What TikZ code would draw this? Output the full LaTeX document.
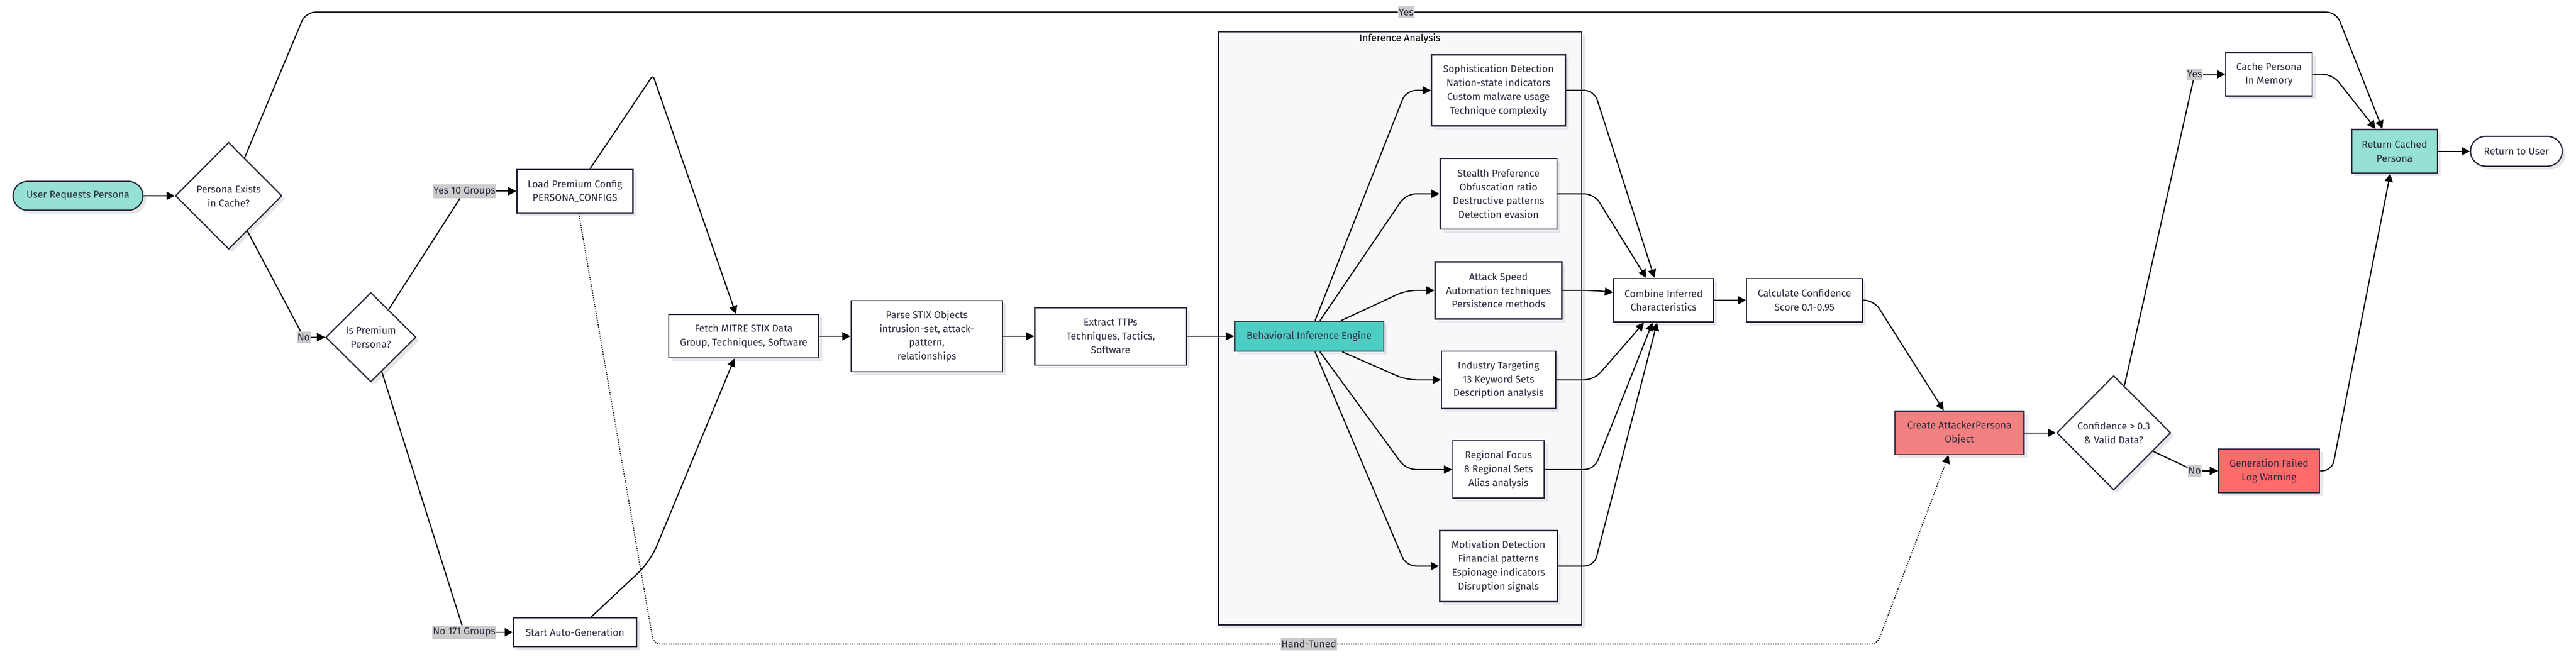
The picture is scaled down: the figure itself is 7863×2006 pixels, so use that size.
\documentclass[tikz,border=0pt]{standalone}
\usepackage{fontspec}
\setmainfont{Fira Sans}
\usetikzlibrary{arrows.meta,shapes.geometric,shapes.misc,shadows,calc}
\definecolor{ink}{HTML}{2A2A3E}
\definecolor{mint}{HTML}{95E1D3}
\definecolor{engcol}{HTML}{4ECDC4}
\definecolor{salmon}{HTML}{F38181}
\definecolor{failcol}{HTML}{FF6B6B}
\definecolor{panel}{HTML}{F8F8FA}
\definecolor{shade}{HTML}{E6E6EA}

\tikzset{
  box/.style={draw=ink,line width=1.1pt,fill=white,align=center,inner sep=0pt,
    drop shadow={shadow xshift=0.1cm,shadow yshift=-0.1cm,fill=shade,opacity=1}},
  dia/.style={box,diamond,aspect=1},
  pill/.style={box,rounded rectangle},
  lbl/.style={fill=black!20,inner xsep=0.5pt,inner ysep=0.07cm},
  arr/.style={line width=1pt,-{Triangle[length=0.25cm,width=0.25cm]}},
  link/.style={line width=1pt},
  dotline/.style={line width=0.9pt,dash pattern=on 0.03cm off 0.04cm}
}

\begin{document}
\begin{tikzpicture}[x=0.01cm,y=-0.01cm,font=\fontsize{8.6}{12}\selectfont,every node/.append style={text=ink}]
  \useasboundingbox (0,0) rectangle (7863,2006);

  % inference cluster
  \draw[draw=ink,line width=1.1pt,fill=panel,drop shadow={shadow xshift=0.1cm,shadow yshift=-0.1cm,fill=shade,opacity=1}]
    (3719,97) rectangle (4828,1908);
  \node[text=black] (ctitle) at (4273,118) {Inference Analysis};

  % nodes
  \node[pill,fill=mint,minimum width=3.96cm,minimum height=0.88cm] (start) at (238,598) {User Requests Persona};
  \node[dia,minimum width=3.25cm,minimum height=3.26cm] (cache) at (698,598) {Persona Exists\\in Cache?};
  \node[dia,minimum width=2.75cm,minimum height=2.73cm] (premium) at (1132,1030) {Is Premium\\Persona?};
  \node[box,minimum width=3.54cm,minimum height=1.33cm] (loadcfg) at (1755,584) {Load Premium Config\\PERSONA\_CONFIGS};
  \node[box,minimum width=3.75cm,minimum height=0.89cm] (autogen) at (1755,1931) {Start Auto-Generation};
  \node[box,minimum width=4.58cm,minimum height=1.32cm] (fetch) at (2270,1027) {Fetch MITRE STIX Data\\Group, Techniques, Software};
  \node[box,minimum width=4.62cm,minimum height=2.17cm] (parse) at (2829,1027) {Parse STIX Objects\\intrusion-set, attack-\\pattern,\\relationships};
  \node[box,minimum width=4.63cm,minimum height=1.75cm] (ttps) at (3390,1027) {Extract TTPs\\Techniques, Tactics,\\Software};
  \node[box,fill=engcol,minimum width=4.55cm,minimum height=0.91cm] (engine) at (3996,1027) {Behavioral Inference Engine};

  \node[box,minimum width=4.09cm,minimum height=2.17cm] (soph) at (4574,276) {Sophistication Detection\\Nation-state indicators\\Custom malware usage\\Technique complexity};
  \node[box,minimum width=3.56cm,minimum height=2.16cm] (stealth) at (4574,592) {Stealth Preference\\Obfuscation ratio\\Destructive patterns\\Detection evasion};
  \node[box,minimum width=3.87cm,minimum height=1.74cm] (speed) at (4574,887) {Attack Speed\\Automation techniques\\Persistence methods};
  \node[box,minimum width=3.48cm,minimum height=1.75cm] (industry) at (4574,1160) {Industry Targeting\\13 Keyword Sets\\Description analysis};
  \node[box,minimum width=2.79cm,minimum height=1.75cm] (regional) at (4574,1434) {Regional Focus\\8 Regional Sets\\Alias analysis};
  \node[box,minimum width=3.59cm,minimum height=2.17cm] (motiv) at (4574,1729) {Motivation Detection\\Financial patterns\\Espionage indicators\\Disruption signals};

  \node[box,minimum width=3.05cm,minimum height=1.33cm] (combine) at (5078,917) {Combine Inferred\\Characteristics};
  \node[box,minimum width=3.53cm,minimum height=1.33cm] (calc) at (5508,917) {Calculate Confidence\\Score 0.1-0.95};
  \node[box,fill=salmon,minimum width=3.94cm,minimum height=1.33cm] (create) at (5981,1322) {Create AttackerPersona\\Object};
  \node[dia,minimum width=3.48cm,minimum height=3.49cm] (conf) at (6452,1322) {Confidence > 0.3\\\& Valid Data?};
  \node[box,minimum width=2.64cm,minimum height=1.32cm] (cachemem) at (6926,227) {Cache Persona\\In Memory};
  \node[box,fill=failcol,minimum width=3.08cm,minimum height=1.34cm] (failed) at (6926,1438) {Generation Failed\\Log Warning};
  \node[box,fill=mint,minimum width=2.62cm,minimum height=1.33cm] (retcached) at (7309,462) {Return Cached\\Persona};
  \node[pill,minimum width=2.80cm,minimum height=0.91cm] (retuser) at (7681,462) {Return to User};

  % edge labels
  \node[lbl] (yescache) at (4292,37) {Yes};
  \node[lbl] (nocache) at (927,1030) {No};
  \node[lbl] (yesprem) at (1418,584) {Yes 10 Groups};
  \node[lbl] (noprem) at (1417,1931) {No 171 Groups};
  \node[lbl] (handtuned) at (3995,1967) {Hand-Tuned};
  \node[lbl] (yesconf) at (6699,227) {Yes};
  \node[lbl] (noconf) at (6699,1438) {No};

  \coordinate (ytl) at (933,37);
  \coordinate (ytr) at (7131,37);
  \coordinate (peak) at (1993,230);
  \coordinate (agbend) at (1985,1715);
  \coordinate (hleft) at (1995,1967);
  \coordinate (hright) at (5730,1967);

  % left part
  \draw[arr] (start) -- (cache);
  \draw[link,rounded corners=0.3cm] (cache) -- (ytl) -- (yescache);
  \draw[arr,rounded corners=0.3cm] (yescache) -- (ytr) -- ($(retcached.north)+(-37,0)$);
  \draw[link] (cache) -- (nocache);
  \draw[arr] (nocache) -- (premium);
  \draw[link] (premium) -- (yesprem);
  \draw[arr] (yesprem) -- (loadcfg);
  \draw[link] (premium) -- (noprem);
  \draw[arr] (noprem) -- (autogen);
  \draw[arr,rounded corners=0.1cm] (loadcfg) -- (peak) -- (fetch);
  \draw[arr,rounded corners=0.5cm] (autogen) -- (agbend) -- (fetch);
  \draw[dotline,rounded corners=0.2cm] (loadcfg) -- (hleft) -- (handtuned);
  \draw[dotline,rounded corners=0.2cm,-{Triangle[length=0.25cm,width=0.25cm]}] (handtuned) -- (hright) -- ($(create.south)+(-33,0)$);
  \draw[arr] (fetch) -- (parse);
  \draw[arr] (parse) -- (ttps);
  \draw[arr] (ttps) -- (engine);

  % inference fan out / fan in
  \foreach \a/\dx/\t in {north/18/soph, north/33/stealth, north/97/speed, south/101/industry, south/33/regional, south/18/motiv}
    \draw[arr,rounded corners=0.3cm] ($(engine.\a)+(\dx,0)$) -- (4292,0 |- \t.west) -- (\t.west);
  \foreach \s/\a/\dx in {soph/north/-28, stealth/north/-53, industry/south/-60, regional/south/-34, motiv/south/-20}
    \draw[arr,rounded corners=0.3cm] (\s.east) -- (4866,0 |- \s.east) -- ($(combine.\a)+(\dx,0)$);
  \draw[arr,rounded corners=0.3cm] (speed.east) -- (4866,0 |- speed.east) -- ($(combine.west)+(0,-24)$);

  % right part
  \draw[arr] (combine) -- (calc);
  \draw[arr,rounded corners=0.3cm] (calc.east) -- (5720,0 |- calc.east) -- ($(create.north)+(-48,0)$);
  \draw[arr] (create) -- (conf);
  \draw[link] (conf) -- (yesconf);
  \draw[arr] (yesconf) -- (cachemem);
  \draw[link] (conf) -- (noconf);
  \draw[arr] (noconf) -- (failed);
  \draw[arr,rounded corners=0.3cm] (cachemem.east) -- (7120,0 |- cachemem.east) -- ($(retcached.north)+(-58,0)$);
  \draw[arr,rounded corners=0.3cm] (failed.east) -- (7118,0 |- failed.east) -- ($(retcached.south)+(-13,0)$);
  \draw[arr] (retcached) -- (retuser);
\end{tikzpicture}
\end{document}
